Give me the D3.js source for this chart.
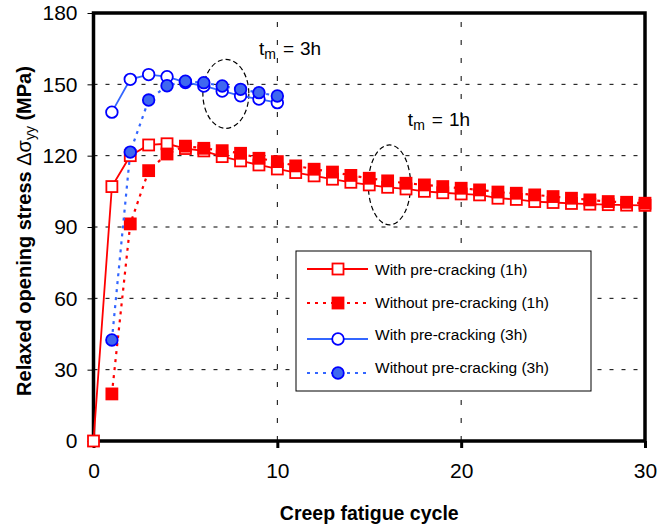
<!DOCTYPE html>
<html>
<head>
<meta charset="utf-8">
<script src="https://cdn.jsdelivr.net/npm/d3@7"></script>
<style>
  body { margin: 0; background: #fff; }
  svg { font-family: "Liberation Sans", Arial, sans-serif; }
  text { white-space: pre; }
</style>
</head>
<body>
<div id="chart"></div>
<script>
const width = 670, height = 528;

// data
const cyclesLong = d3.range(0, 31);
const cyclesNoZero = d3.range(1, 31);
const cyclesShort = d3.range(1, 11);
const with1h = [0, 107, 120, 124.5, 125, 123, 122, 119.6, 117.8, 116.1, 114.4,
  112.9, 111.5, 110.1, 108.8, 107.7, 106.7, 106, 105, 104.4, 103.9,
  103.5, 102.1, 101.6, 100.7, 100.3, 99.9, 99.6, 99.4, 99.2, 99.1];
const without1h = [19.8, 91.3, 113.7, 120.7, 124, 123.1, 122.1, 121, 118.9, 117.5,
  115.7, 114.3, 113.1, 111.7, 110.5, 109.4, 108.4, 107.7, 107, 106.3,
  105.6, 104.7, 104.2, 103.5, 102.8, 102.1, 101.4, 100.7, 100.4, 100];
const with3h = [138.3, 152.1, 154.1, 153.2, 150.8, 149.3, 147.2, 145.2, 143.8, 142.3];
const without3h = [42.5, 121.5, 143.4, 149.4, 151.3, 150.7, 149.3, 147.9, 146.5, 145.1];
const xTicks = [0, 10, 20, 30];
const yTicks = [0, 30, 60, 90, 120, 150, 180];
const legendLabels = ["With pre-cracking (1h)", "Without pre-cracking (1h)",
  "With pre-cracking (3h)", "Without pre-cracking (3h)"];

const margin = {left: 93.5, right: 25, top: 13, bottom: 87};

const x = d3.scaleLinear().domain([0, 30]).range([margin.left, width - margin.right]);
const y = d3.scaleLinear().domain([0, 180]).range([height - margin.bottom, margin.top]);

const svg = d3.select("#chart").append("svg").attr("width", width).attr("height", height);

// gridlines
svg.append("g").selectAll("line").data(yTicks.slice(1, -1)).join("line")
  .attr("x1", x(0)).attr("x2", x(30))
  .attr("y1", d => y(d)).attr("y2", d => y(d))
  .attr("stroke", "#000").attr("stroke-width", 1).attr("stroke-dasharray", "4,8");
svg.append("g").selectAll("line").data(xTicks.slice(1, -1)).join("line")
  .attr("x1", d => x(d)).attr("x2", d => x(d))
  .attr("y1", y(0)).attr("y2", y(180))
  .attr("stroke", "#000").attr("stroke-width", 1).attr("stroke-dasharray", "5,13");

// axes
const yAxis = svg.append("g").attr("transform", `translate(${x(0)},0)`)
  .call(d3.axisLeft(y).tickValues(yTicks).tickSize(6).tickPadding(10));
yAxis.select(".domain").remove();
yAxis.selectAll("text").style("font-size", "21px").attr("fill", "#000");

const xAxis = svg.append("g").attr("transform", `translate(0,${y(0)})`)
  .call(d3.axisBottom(x).tickValues(xTicks).tickSize(7).tickPadding(15));
xAxis.select(".domain").remove();
xAxis.selectAll("line").attr("stroke-width", 3);
xAxis.selectAll("text").style("font-size", "21px").attr("fill", "#000");

// frame
svg.append("rect")
  .attr("x", x(0)).attr("y", y(180))
  .attr("width", x(30) - x(0)).attr("height", y(0) - y(180))
  .attr("fill", "none").attr("stroke", "#000").attr("stroke-width", 3.5);

// ellipses marking the cycle time groups
const ellipses = [{cx: 7.2, cy: 146, rx: 1.25, ry: 14.5}, {cx: 16.1, cy: 107.7, rx: 1.15, ry: 16.8}];
svg.append("g").selectAll("ellipse").data(ellipses).join("ellipse")
  .attr("cx", d => x(d.cx)).attr("cy", d => y(d.cy))
  .attr("rx", d => x(d.rx) - x(0)).attr("ry", d => y(0) - y(d.ry))
  .attr("fill", "none").attr("stroke", "#000").attr("stroke-width", 1.2)
  .attr("stroke-dasharray", "5,3");

function tmLabel(px, py, val) {
  const t = svg.append("text").attr("x", px).attr("y", py)
    .style("font-size", "19px").attr("fill", "#000");
  t.append("tspan").text("t");
  t.append("tspan").text("m").style("font-size", "14px").attr("dy", 4);
  t.append("tspan").text("=").attr("dy", -4).attr("dx", 7);
  t.append("tspan").text(val).attr("dx", 6);
}
tmLabel(x(9), 55, "3h");
tmLabel(x(17.1), 126, "1h");

// series
const red = "#ff0000", blue = "#3366ff", dblue = "#0000ff";
const series = [
  {xs: cyclesLong, ys: with1h, color: red, dash: null, shape: "square", fill: "#fff", stroke: red},
  {xs: cyclesNoZero, ys: without1h, color: red, dash: "3,5", shape: "square", fill: red, stroke: red},
  {xs: cyclesShort, ys: with3h, color: blue, dash: null, shape: "circle", fill: "#fff", stroke: dblue},
  {xs: cyclesShort, ys: without3h, color: blue, dash: "3,5", shape: "circle", fill: "#3f68f0", stroke: dblue}
];

const line = d3.line().x(d => x(d[0])).y(d => y(d[1]));

function drawMarker(g, shape, fill, stroke) {
  if (shape === "square") {
    g.append("rect").attr("x", -5.5).attr("y", -5.5).attr("width", 11).attr("height", 11)
      .attr("fill", fill).attr("stroke", stroke).attr("stroke-width", 1.8);
  } else {
    g.append("circle").attr("r", 5.8)
      .attr("fill", fill).attr("stroke", stroke).attr("stroke-width", 1.8);
  }
}

series.forEach(s => {
  const pts = s.xs.map((v, i) => [v, s.ys[i]]);
  svg.append("path").datum(pts)
    .attr("d", line).attr("fill", "none")
    .attr("stroke", s.color).attr("stroke-width", s.dash ? 2.2 : 1.8)
    .attr("stroke-dasharray", s.dash);
  svg.append("g").selectAll("g").data(pts).join("g")
    .attr("transform", d => `translate(${x(d[0])},${y(d[1])})`)
    .each(function () { drawMarker(d3.select(this), s.shape, s.fill, s.stroke); });
});

// legend
const legend = svg.append("g");
legend.append("rect").attr("x", 296).attr("y", 251).attr("width", 295).attr("height", 140)
  .attr("fill", "#fff").attr("stroke", "#000").attr("stroke-width", 1);
const lineYs = [269, 303, 339, 373];
const textYs = [269, 302, 334, 367];
series.forEach((s, i) => {
  legend.append("line").attr("x1", 307).attr("x2", 368)
    .attr("y1", lineYs[i]).attr("y2", lineYs[i])
    .attr("stroke", s.color).attr("stroke-width", s.dash ? 2.2 : 1.8)
    .attr("stroke-dasharray", s.dash);
  const g = legend.append("g").attr("transform", `translate(338,${lineYs[i]})`);
  drawMarker(g, s.shape, s.fill, s.stroke);
  legend.append("text").attr("x", 375).attr("y", textYs[i])
    .attr("dominant-baseline", "central")
    .style("font-size", "15.5px").text(legendLabels[i]);
});

// axis titles
svg.append("text").attr("x", (x(0) + x(30)) / 2).attr("y", 520)
  .attr("text-anchor", "middle").style("font-size", "19.5px").style("font-weight", "bold")
  .text("Creep fatigue cycle");

const yt = svg.append("text")
  .attr("transform", `translate(31,231) rotate(-90)`)
  .attr("text-anchor", "middle").style("font-size", "20px").style("font-weight", "bold");
yt.append("tspan").text("Relaxed opening stress ");
yt.append("tspan").text("Δσ").style("font-weight", "normal");
yt.append("tspan").text("yy").style("font-weight", "normal").style("font-size", "14px").attr("dy", 4);
yt.append("tspan").text(" (MPa)").attr("dy", -4);
</script>
</body>
</html>
